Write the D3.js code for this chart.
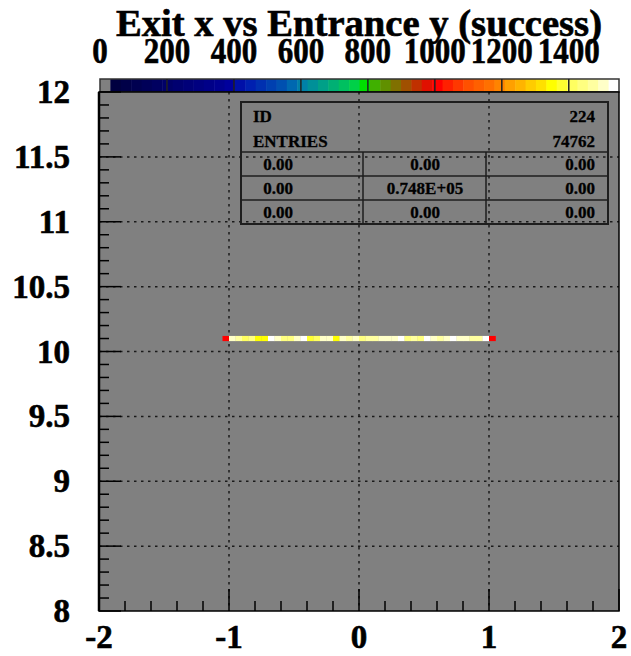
<!DOCTYPE html>
<html><head><meta charset="utf-8">
<script src="https://cdn.jsdelivr.net/npm/d3@7"></script>
<style>body{margin:0;background:#fff}svg{display:block}text{font-family:"Liberation Serif","Times New Roman",serif;font-weight:bold;fill:#000}
.big{stroke:#000;stroke-width:0.6px}.med{stroke:#000;stroke-width:0.3px}</style>
</head><body>
<script>
// ---- data ----
const title = "Exit x vs Entrance y (success)";
const xTicks = [-2, -1, 0, 1, 2];
const yTicks = [8, 8.5, 9, 9.5, 10, 10.5, 11, 11.5, 12];
const yTickLabels = ["8", "8.5", "9", "9.5", "10", "10.5", "11", "11.5", "12"];
const zTicks = [0, 200, 400, 600, 800, 1000, 1200, 1400];
const zMax = 1550;
// x bin centres (bin width 0.05) of the single filled row
const xCenters = [-1.025, -0.975, -0.925, -0.875, -0.825, -0.775, -0.725, -0.675, -0.625, -0.575,
  -0.525, -0.475, -0.425, -0.375, -0.325, -0.275, -0.225, -0.175, -0.125, -0.075,
  -0.025, 0.025, 0.075, 0.125, 0.175, 0.225, 0.275, 0.325, 0.375, 0.425,
  0.475, 0.525, 0.575, 0.625, 0.675, 0.725, 0.775, 0.825, 0.875, 0.925,
  0.975, 1.025];
const counts = [1000, 1500, 1470, 1410, 1440, 1340, 1340, 1540, 1500, 1450,
  1450, 1500, 1540, 1380, 1410, 1490, 1490, 1340, 1490, 1460,
  1490, 1440, 1460, 1460, 1500, 1500, 1500, 1540, 1440, 1460,
  1450, 1540, 1500, 1460, 1500, 1540, 1500, 1500, 1460, 1460,
  1540, 1000];
const yRow = [10.08, 10.12];
const statTop = [["ID", "224"], ["ENTRIES", "74762"]];
const statGrid = [["0.00", "0.00", "0.00"], ["0.00", "0.748E+05", "0.00"], ["0.00", "0.00", "0.00"]];
const palette = ["#808080",
  "#000040","#000048","#000050","#000058","#000060","#000068","#000070","#000078","#000080","#000088","#000090","#00009c",
  "#0010a8","#0020b0","#0030b0","#0040b0","#0050b0","#0068b0","#0080a8",
  "#009098","#00a088","#00b074","#00c060","#00d048","#00e000",
  "#40b000","#609000","#807000","#a05000","#c03000","#e01000","#ff0000",
  "#ff2000","#ff3800","#ff5000","#ff6000","#ff7000","#ff8400",
  "#ffa000","#ffb400","#ffcc00","#ffe000","#ffff00","#ffff30","#ffff60","#ffff80","#ffffa0","#ffffc8","#ffffff"];

// ---- layout ----
const W = 631, H = 656;
const L = 99, R = 619, T = 92, B = 611;
const svg = d3.select("body").append("svg").attr("width", W).attr("height", H);
svg.append("rect").attr("width", W).attr("height", H).attr("fill", "#fff");

const x = d3.scaleLinear().domain([-2, 2]).range([L, R]);
const y = d3.scaleLinear().domain([8, 12]).range([B, T]);
const z = d3.scaleLinear().domain([0, zMax]).range([L + 1, R]);
const color = d3.scaleQuantize().domain([0, zMax]).range(palette);

// title
svg.append("text").attr("class", "big").attr("x", (116 + 602) / 2).attr("y", 36).attr("text-anchor", "middle")
  .attr("font-size", 37).attr("textLength", 486).attr("lengthAdjust", "spacingAndGlyphs").text(title);

// colour bar
const cb = svg.append("g");
cb.selectAll("rect.c").data(palette).join("rect")
  .attr("x", (d, i) => z(i * zMax / palette.length))
  .attr("y", 79).attr("width", (d, i) => z((i + 1) * zMax / palette.length) - z(i * zMax / palette.length) + 0.5)
  .attr("height", 13).attr("fill", d => d);
cb.append("rect").attr("x", L + 1).attr("y", 79).attr("width", R - L - 1).attr("height", 13)
  .attr("fill", "none").attr("stroke", "#333").attr("stroke-width", 1.5);
cb.selectAll("line.t").data(zTicks.slice(1)).join("line")
  .attr("x1", d => z(d)).attr("x2", d => z(d)).attr("y1", 79).attr("y2", 92)
  .attr("stroke", "#222").attr("stroke-width", 1.5);
cb.selectAll("text").data(zTicks).join("text").attr("class", "big")
  .attr("x", d => z(d)).attr("y", 63).attr("text-anchor", "middle").attr("font-size", 35)
  .attr("textLength", d => String(d).length * 15.5).attr("lengthAdjust", "spacingAndGlyphs")
  .text(d => d);

// plot area
svg.append("rect").attr("x", L).attr("y", T).attr("width", R - L).attr("height", B - T).attr("fill", "#808080");

// grid
const grid = svg.append("g").attr("stroke", "#1a1a1a").attr("stroke-width", 1.5).attr("stroke-dasharray", "2.5,4.5");
grid.selectAll("line.v").data([-1, 0, 1]).join("line").attr("class", "v")
  .attr("x1", d => x(d)).attr("x2", d => x(d)).attr("y1", T).attr("y2", B);
grid.selectAll("line.h").data(d3.range(8.5, 12, 0.5)).join("line").attr("class", "h")
  .attr("x1", L).attr("x2", R).attr("y1", d => y(d)).attr("y2", d => y(d));

// data cells
svg.append("g").selectAll("rect").data(xCenters.map((c, i) => ({c, v: counts[i]}))).join("rect")
  .attr("x", d => x(d.c - 0.025)).attr("width", d => x(d.c + 0.025) - x(d.c - 0.025) + 0.3)
  .attr("y", y(yRow[1])).attr("height", y(yRow[0]) - y(yRow[1]))
  .attr("fill", d => color(d.v));

// stats box
const sb = svg.append("g");
const bx0 = 241, bx1 = 608, by0 = 102, by1 = 224;
const rowY = [152, 176, 200];
const colX = [363, 486];
sb.append("rect").attr("x", bx0).attr("y", by0).attr("width", bx1 - bx0).attr("height", by1 - by0)
  .attr("fill", "none").attr("stroke", "#1e1e1e").attr("stroke-width", 2);
sb.selectAll("line.r").data(rowY).join("line").attr("x1", bx0).attr("x2", bx1)
  .attr("y1", d => d).attr("y2", d => d).attr("stroke", "#1e1e1e").attr("stroke-width", 1.5);
sb.selectAll("line.c").data(colX).join("line").attr("x1", d => d).attr("x2", d => d)
  .attr("y1", rowY[0]).attr("y2", by1).attr("stroke", "#1e1e1e").attr("stroke-width", 1.5);
statTop.forEach((r, i) => {
  sb.append("text").attr("class", "med").attr("x", 253).attr("y", 122 + i * 24.5).attr("font-size", 17).text(r[0]);
  sb.append("text").attr("class", "med").attr("x", 595).attr("y", 122 + i * 24.5).attr("font-size", 17).attr("text-anchor", "end").text(r[1]);
});
statGrid.forEach((r, i) => {
  const by = 170 + i * 24;
  sb.append("text").attr("class", "med").attr("x", 278).attr("y", by).attr("font-size", 17).attr("text-anchor", "middle").text(r[0]);
  sb.append("text").attr("class", "med").attr("x", 425).attr("y", by).attr("font-size", 17).attr("text-anchor", "middle").text(r[1]);
  sb.append("text").attr("class", "med").attr("x", 595).attr("y", by).attr("font-size", 17).attr("text-anchor", "end").text(r[2]);
});

// frame
svg.append("rect").attr("x", L).attr("y", T).attr("width", R - L).attr("height", B - T)
  .attr("fill", "none").attr("stroke", "#000").attr("stroke-width", 1.5);
svg.append("line").attr("x1", L).attr("x2", L).attr("y1", T).attr("y2", B).attr("stroke", "#000").attr("stroke-width", 2.5);

// y ticks
const yMinor = d3.range(80, 121).map(d => d / 10);
svg.append("g").selectAll("line").data(yMinor).join("line")
  .attr("x1", L).attr("x2", d => L + (Math.abs(d * 2 - Math.round(d * 2)) < 1e-6 ? 22 : 10))
  .attr("y1", d => y(d)).attr("y2", d => y(d)).attr("stroke", "#000").attr("stroke-width", 1.5);
svg.append("g").selectAll("text").data(yTicks).join("text").attr("class", "big")
  .attr("x", 70).attr("y", d => y(d) + 11).attr("text-anchor", "end").attr("font-size", 33)
  .text((d, i) => yTickLabels[i]);

// x ticks
const xMinor = d3.range(-20, 21, 2).map(d => d / 10);
svg.append("g").selectAll("line").data(xMinor).join("line")
  .attr("x1", d => x(d)).attr("x2", d => x(d))
  .attr("y1", B).attr("y2", d => B - (Math.abs(d - Math.round(d)) < 1e-6 ? 22 : 10))
  .attr("stroke", "#000").attr("stroke-width", 1.5);
svg.append("g").selectAll("text").data(xTicks).join("text").attr("class", "big")
  .attr("x", d => x(d)).attr("y", 648).attr("text-anchor", "middle").attr("font-size", 33)
  .text(d => d);
</script>
</body></html>
